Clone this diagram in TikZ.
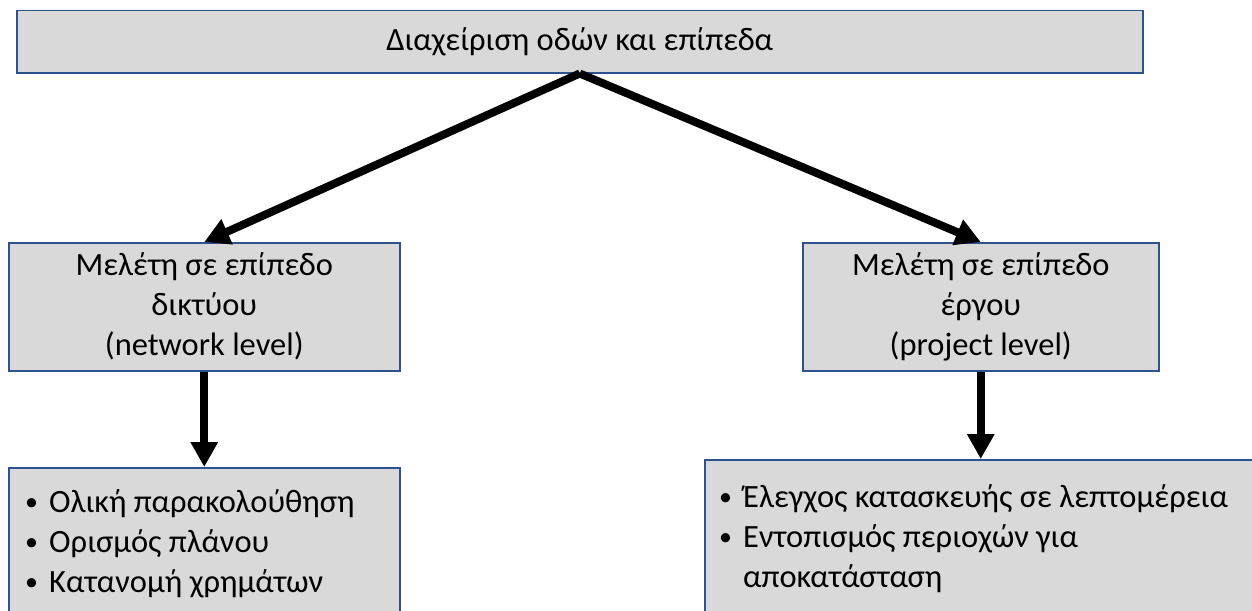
\documentclass[tikz,border=0pt]{standalone}
\usepackage{fontspec}
\setmainfont{Carlito}
\usetikzlibrary{arrows.meta}
\definecolor{boxblue}{HTML}{2F528F}
\definecolor{boxgray}{HTML}{D9D9D9}
\newcommand{\mybul}{\hspace*{3pt}{\fontsize{26}{40}\selectfont\raisebox{1.5pt}{•}}}
\begin{document}
\begin{tikzpicture}[x=1pt,y=-1pt,
  box/.style={draw=boxblue, line width=1.5pt, fill=boxgray, inner sep=0pt, anchor=north west,
    font=\fontsize{32.5}{40}\selectfont, align=center},
  listtext/.style={inner sep=0pt, anchor=base west, font=\fontsize{32.5}{40}\selectfont},
  arr/.style={line width=8pt, -{Triangle[length=25pt,width=26pt]}}]
\useasboundingbox (0,0) rectangle (1252,610);
\clip (0,0) rectangle (1252,610);
\node[box, minimum width=1126pt, minimum height=62pt] (top) at (16,10) {Διαχείριση οδών και επίπεδα};
\node[box, minimum width=391pt, minimum height=128pt] (net) at (8,242) {Μελέτη σε επίπεδο\\δικτύου\\(network level)};
\node[box, minimum width=356pt, minimum height=128pt] (proj) at (802,242) {Μελέτη σε επίπεδο\\έργου\\(project level)};
\node[box, minimum width=391pt, minimum height=170pt] (netlist) at (8,467) {};
\node[box, minimum width=580pt, minimum height=170pt] (projlist) at (704,459) {};
\node[listtext] (netitems) at (22,512) {\begin{tabular}[t]{@{}p{27pt}@{}l@{}}
\mybul&Ολική παρακολούθηση\\
\mybul&Ορισμός πλάνου\\
\mybul&Κατανομή χρημάτων
\end{tabular}};
\node[listtext] (projitems) at (716,507) {\begin{tabular}[t]{@{}p{27pt}@{}l@{}}
\mybul&Έλεγχος κατασκευής σε λεπτομέρεια\\
\mybul&Εντοπισμός περιοχών για\\
&αποκατάσταση
\end{tabular}};
\draw[arr] (top.south) -- (net.north);
\draw[arr] (top.south) -- (proj.north);
\draw[arr] (net.south) -- (netlist.north);
\draw[arr] (proj.south) -- (proj.south |- projlist.north);
\end{tikzpicture}
\end{document}
